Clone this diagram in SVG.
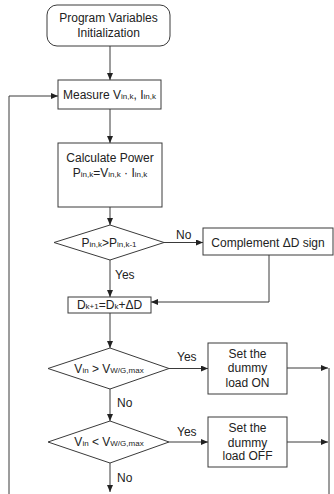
<svg xmlns="http://www.w3.org/2000/svg" width="334" height="494" viewBox="0 0 334 494">
<style>
.n{fill:#fff;stroke:#3a3a3a;stroke-width:1}
.t{font-family:"Liberation Sans",Arial,sans-serif;font-size:12px;fill:#222;text-anchor:middle}
.l{font-family:"Liberation Sans",Arial,sans-serif;font-size:12px;fill:#222}
.s{font-size:8px}
.c{fill:none;stroke:#3a3a3a;stroke-width:1}
</style>
<defs>
<marker id="a" markerWidth="7" markerHeight="6" refX="7" refY="3" orient="auto" markerUnits="userSpaceOnUse">
<path d="M0,0 L7,3 L0,6 z" fill="#222"/>
</marker>
</defs>
<g id="connectors">
<path class="c" d="M110,46 V80" marker-end="url(#a)"/>
<path class="c" d="M9,494 V96 H58" marker-end="url(#a)"/>
<path class="c" d="M110,109 V143" marker-end="url(#a)"/>
<path class="c" d="M110,207 V225" marker-end="url(#a)"/>
<path class="c" d="M164,242.5 H203" marker-end="url(#a)"/>
<path class="c" d="M269,255 V302 H151" marker-end="url(#a)"/>
<path class="c" d="M110,260 V297" marker-end="url(#a)"/>
<path class="c" d="M110,313 V348" marker-end="url(#a)"/>
<path class="c" d="M169,368.5 H208" marker-end="url(#a)"/>
<path class="c" d="M287,368 H328" marker-end="url(#a)"/>
<path class="c" d="M329,368 V494"/>
<path class="c" d="M110,389 V421" marker-end="url(#a)"/>
<path class="c" d="M169,442 H208" marker-end="url(#a)"/>
<path class="c" d="M287,442 H328" marker-end="url(#a)"/>
<path class="c" d="M110,463 V492" marker-end="url(#a)"/>
<text class="l" x="176" y="239">No</text>
<text class="l" x="115" y="279">Yes</text>
<text class="l" x="177" y="361">Yes</text>
<text class="l" x="117" y="407">No</text>
<text class="l" x="177" y="436">Yes</text>
<text class="l" x="117" y="482">No</text>
</g>
<g id="start">
<rect class="n" x="47" y="5" width="123" height="41" rx="10"/>
<text class="t" x="108.5" y="22">Program Variables</text>
<text class="t" x="108.5" y="37">Initialization</text>
</g>
<g id="measure">
<rect class="n" x="58" y="80" width="103" height="29"/>
<text class="t" x="109.5" y="99">Measure V<tspan class="s">in,k</tspan>, I<tspan class="s">in,k</tspan></text>
</g>
<g id="calc">
<rect class="n" x="58" y="143" width="104" height="64"/>
<text class="t" x="110" y="162">Calculate Power</text>
<text class="t" x="110" y="177">P<tspan class="s">in,k</tspan>=V<tspan class="s">in,k</tspan> · I<tspan class="s">in,k</tspan></text>
</g>
<g id="cmpP">
<polygon class="n" points="54,242.5 110,225 164,242.5 110,260"/>
<text class="t" x="109" y="247">P<tspan class="s">in,k</tspan>&gt;P<tspan class="s">in,k-1</tspan></text>
</g>
<g id="complement">
<rect class="n" x="203" y="228" width="130" height="27"/>
<text class="t" x="268" y="247">Complement ΔD sign</text>
</g>
<g id="update">
<rect class="n" x="68" y="297" width="83" height="16"/>
<text class="t" x="109.5" y="309">D<tspan class="s">k+1</tspan>=D<tspan class="s">k</tspan>+ΔD</text>
</g>
<g id="cmpMax">
<polygon class="n" points="48,368.5 110,348 169,368.5 110,389"/>
<text class="t" x="109" y="373">V<tspan class="s">in</tspan> &gt; V<tspan class="s">W/G,max</tspan></text>
</g>
<g id="loadOn">
<rect class="n" x="208" y="343" width="79" height="51"/>
<text class="t" x="247.5" y="358">Set the</text>
<text class="t" x="247.5" y="372">dummy</text>
<text class="t" x="247.5" y="387">load ON</text>
</g>
<g id="cmpMin">
<polygon class="n" points="48,442 110,421 169,442 110,463"/>
<text class="t" x="109" y="446">V<tspan class="s">in</tspan> &lt; V<tspan class="s">W/G,max</tspan></text>
</g>
<g id="loadOff">
<rect class="n" x="208" y="417" width="79" height="50"/>
<text class="t" x="247.5" y="432">Set the</text>
<text class="t" x="247.5" y="447">dummy</text>
<text class="t" x="247.5" y="460">load OFF</text>
</g>
</svg>
